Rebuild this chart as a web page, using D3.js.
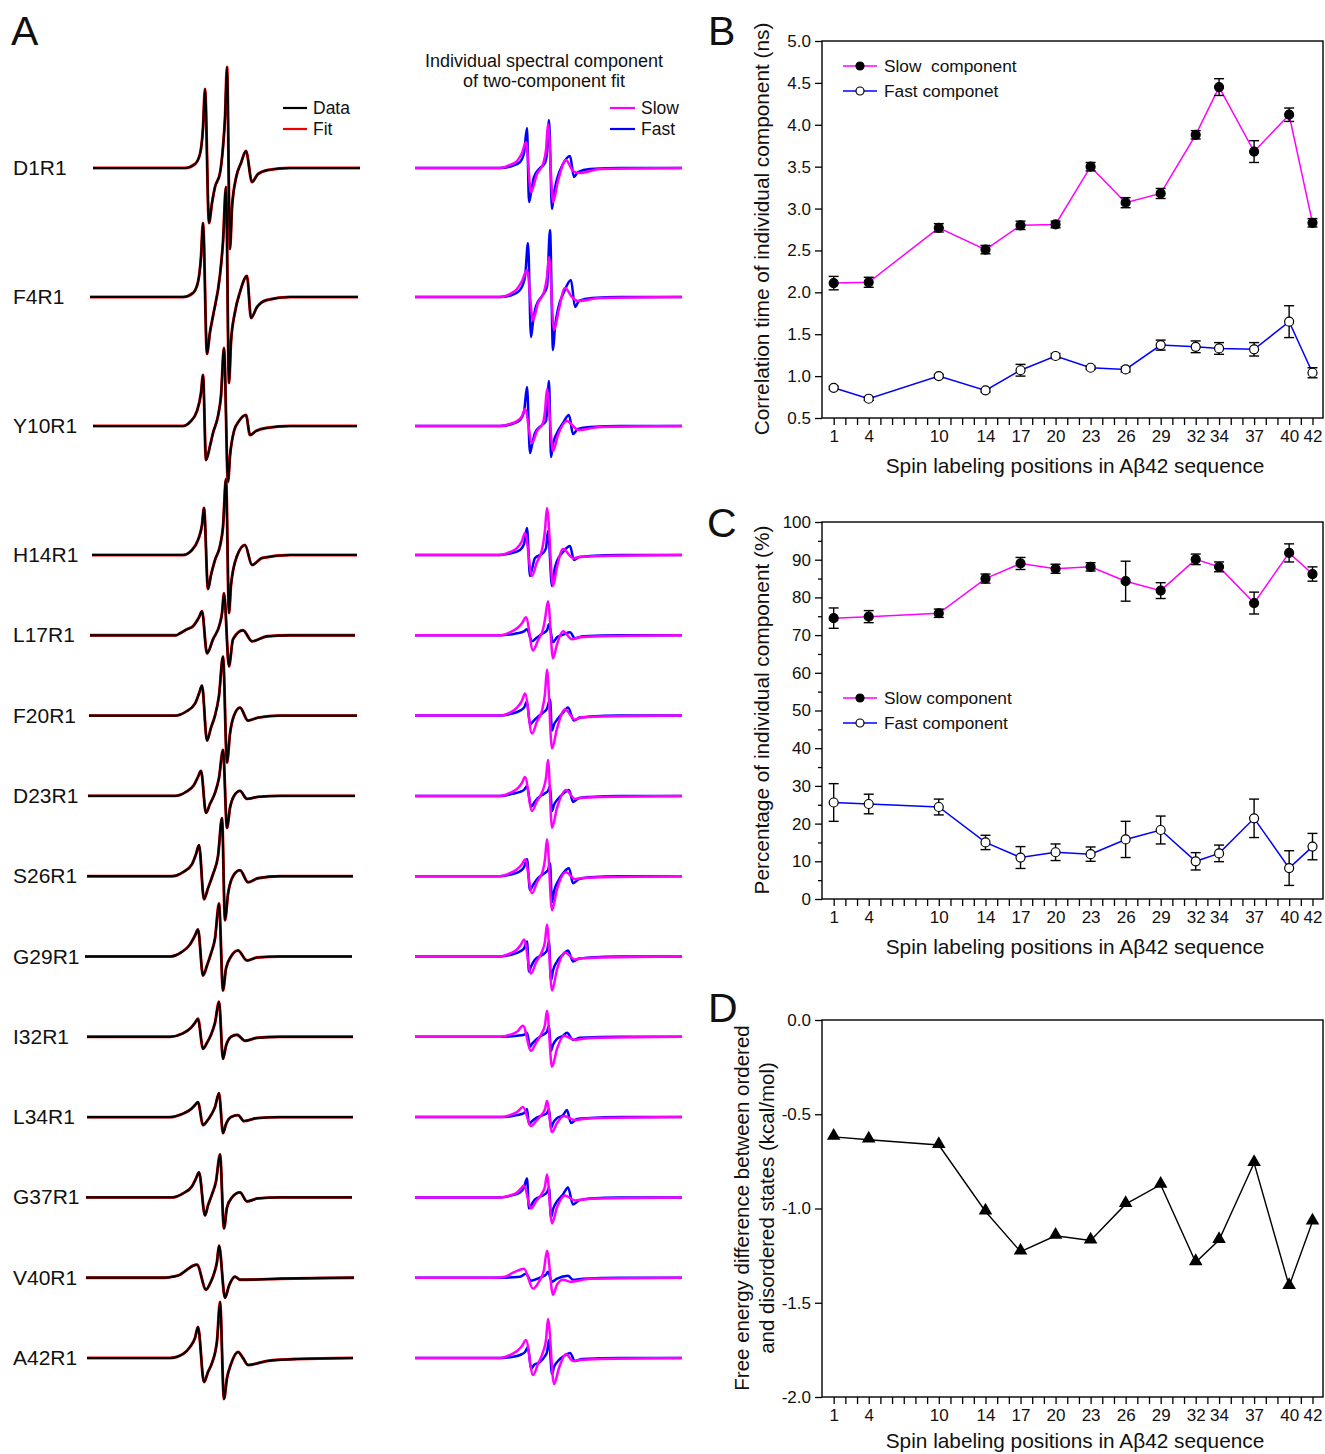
<!DOCTYPE html>
<html>
<head>
<meta charset="utf-8">
<script src="https://cdn.jsdelivr.net/npm/d3@7"></script>
<style>
  body { margin: 0; background: #fff; }
  svg text { font-family: "Liberation Sans", Arial, sans-serif; fill: #111; }
</style>
</head>
<body>
<svg id="fig" width="1325" height="1454"></svg>
<script>
// ---------- data ----------
// spin-labelled mutants (panel A rows)
const mutants = ["D1R1", "F4R1", "Y10R1", "H14R1", "L17R1", "F20R1", "D23R1", "S26R1",
                 "G29R1", "I32R1", "L34R1", "G37R1", "V40R1", "A42R1"];

// EPR spectra: [field (G, relative), amplitude (normalised)]
const dataSpectra = [
  [[2.8,0],[39.6,0],[43.6,.04],[45.6,.14],[46.8,.40],[47.6,.79],[49.2,-.55],[50.4,-.35],[51.6,-.19],[53.6,-.05],[54.8,.21],[55.6,.50],[56.4,1.01],[57.6,-.81],[58.4,-.40],[60.0,-.10],[62.0,.05],[64.0,.17],[66.4,-.14],[68.8,-.06],[72.8,-.02],[81.6,0],[109.6,0]],
  [[1.6,0],[38.8,0],[42.8,.04],[44.8,.15],[46.0,.40],[46.8,.74],[48.4,-.57],[49.6,-.35],[50.8,-.19],[53.6,.22],[54.8,.55],[56.0,1.10],[57.2,-.86],[58.0,-.45],[59.6,-.15],[61.6,.05],[64.4,.21],[66.0,-.21],[68.4,-.10],[72.4,-.03],[81.6,0],[108.8,0]],
  [[2.8,0],[38.8,0],[41.6,.04],[44.4,.15],[46.0,.33],[46.8,.51],[48.0,-.34],[49.6,-.20],[50.8,-.07],[52.8,.10],[54.0,.30],[55.2,.78],[56.8,-.56],[57.6,-.30],[59.2,-.05],[61.2,.05],[64.0,.11],[65.6,-.09],[68.0,-.05],[72.0,-.02],[81.6,0],[108.4,0]],
  [[2.4,0],[38.8,0],[42.4,.05],[44.8,.15],[46.4,.30],[47.2,.47],[48.8,-.34],[50.0,-.20],[51.6,-.05],[53.6,.09],[54.8,.28],[56.0,.76],[57.2,-.58],[58.0,-.30],[60.4,-.01],[63.6,.10],[66.4,-.10],[70.4,-.03],[81.6,0],[108.4,0]],
  [[1.6,0],[36.0,0],[37.6,.02],[40.4,.06],[42.8,.09],[45.2,.18],[46.4,.24],[48.4,-.18],[50.8,-.04],[53.6,.12],[54.4,.22],[55.2,.42],[57.2,-.31],[58.8,-.04],[62.8,.05],[66.4,-.06],[72.4,-.01],[81.6,0],[107.6,0]],
  [[1.2,0],[35.6,0],[40.0,.04],[43.6,.12],[45.2,.22],[46.4,.30],[48.4,-.25],[50.0,-.12],[51.6,0],[53.2,.20],[54.8,.59],[56.4,-.47],[57.6,-.18],[59.2,0],[61.6,.08],[64.8,-.05],[68.8,-.02],[77.6,0],[108.4,0]],
  [[0.8,0],[35.6,0],[40.0,.04],[43.2,.11],[44.8,.19],[46.0,.25],[48.0,-.17],[49.6,-.08],[51.6,.03],[53.2,.18],[54.8,.46],[56.4,-.32],[57.6,-.12],[59.2,0],[61.6,.05],[64.4,-.03],[68.8,-.01],[77.6,0],[107.6,0]],
  [[0.4,0],[34.4,0],[38.8,.04],[42.4,.12],[44.0,.22],[45.2,.31],[47.2,-.23],[48.8,-.12],[50.8,.02],[52.8,.20],[54.4,.58],[55.6,-.44],[56.8,-.18],[58.8,0],[61.6,.06],[64.8,-.06],[68.8,-.02],[77.6,0],[106.8,0]],
  [[-0.4,0],[33.6,0],[38.0,.04],[41.6,.12],[43.6,.21],[44.8,.27],[46.8,-.19],[48.4,-.09],[50.0,.03],[51.6,.18],[53.2,.53],[54.8,-.34],[56.0,-.12],[58.0,0],[60.8,.06],[64.4,-.04],[68.4,-.01],[77.6,0],[106.4,0]],
  [[0.4,0],[33.6,0],[38.4,.03],[42.0,.09],[43.6,.14],[44.8,.18],[46.8,-.12],[48.4,-.06],[50.0,.02],[51.6,.14],[53.2,.35],[54.8,-.22],[56.0,-.09],[58.0,0],[60.4,.02],[63.6,-.04],[68.4,-.01],[77.6,0],[106.8,0]],
  [[0.4,0],[33.6,0],[38.4,.03],[42.0,.08],[43.6,.12],[44.8,.15],[46.8,-.08],[48.4,-.04],[50.0,.02],[51.6,.10],[53.2,.24],[54.8,-.16],[56.0,-.07],[58.0,0],[60.8,.02],[63.2,-.04],[68.4,-.01],[77.6,0],[106.8,0]],
  [[0,0],[34.4,0],[38.8,.04],[42.4,.11],[44.0,.19],[45.2,.25],[47.6,-.18],[48.8,-.08],[50.4,.03],[52.0,.16],[53.6,.43],[55.2,-.31],[56.4,-.10],[58.4,0],[61.6,.05],[64.4,-.04],[68.8,-.01],[77.6,0],[106.4,0]],
  [[0,0],[31.6,0],[34.8,.01],[37.6,.03],[40.4,.08],[42.8,.12],[44.4,.13],[48.0,-.12],[49.6,-.06],[51.2,.04],[52.4,.16],[53.2,.32],[55.6,-.20],[57.2,-.08],[59.6,.01],[61.6,-.02],[64.4,-.02],[77.6,-.01],[107.2,0]],
  [[0.4,0],[33.6,0],[38.8,.04],[41.6,.11],[43.6,.20],[44.8,.31],[47.2,-.24],[48.8,-.14],[50.4,-.05],[52.4,.17],[53.6,.56],[55.2,-.41],[56.4,-.20],[58.0,-.06],[60.8,.06],[62.8,0],[64.8,-.07],[72.4,-.03],[84.4,-.01],[106.8,0]]
];
// two-component fit overlays the data within the line width
const fitSpectra = dataSpectra;

const slowSpectra = [
  [[2.8,0],[36.8,0],[40.8,.03],[43.6,.07],[45.6,.15],[47.2,.26],[49.2,-.24],[51.6,-.06],[54.0,.04],[55.2,.18],[56.0,.44],[58.0,-.34],[60.0,-.13],[63.2,.08],[66.0,-.03],[68.8,-.05],[76.8,-.01],[109.6,0]],
  [[2.8,0],[36.8,0],[40.8,.03],[43.6,.08],[45.6,.16],[47.6,.27],[50.0,-.23],[52.0,-.06],[54.4,.05],[55.6,.20],[56.4,.40],[58.4,-.33],[60.4,-.12],[62.8,.09],[65.6,0],[68.0,-.04],[76.8,-.01],[109.6,0]],
  [[2.8,0],[36.8,0],[40.8,.02],[43.6,.05],[45.6,.10],[46.8,.17],[49.6,-.17],[51.6,-.05],[54.0,.03],[54.8,.15],[55.6,.37],[58.0,-.25],[60.0,-.09],[63.6,.05],[66.4,-.01],[68.0,-.04],[76.8,-.01],[109.6,0]],
  [[2.8,0],[36.8,0],[40.8,.03],[43.6,.07],[45.6,.14],[46.8,.22],[49.6,-.21],[51.6,-.07],[52.8,-.01],[54.0,.10],[54.8,.25],[55.6,.47],[58.0,-.31],[59.6,-.12],[62.0,.06],[66.0,-.03],[68.8,-.02],[76.8,-.01],[109.6,0]],
  [[2.8,0],[36.8,0],[40.8,.03],[43.6,.07],[45.6,.12],[47.2,.18],[50.0,-.15],[52.0,-.05],[54.0,.06],[54.8,.16],[56.0,.34],[58.0,-.23],[59.6,-.09],[62.0,.04],[65.6,-.04],[68.8,-.02],[76.8,-.01],[109.6,0]],
  [[2.8,0],[36.8,0],[40.8,.03],[43.6,.08],[45.6,.15],[46.8,.22],[49.6,-.18],[51.6,-.06],[53.6,.05],[54.8,.22],[55.6,.46],[57.6,-.33],[59.6,-.13],[62.8,.06],[66.8,-.04],[68.8,-.02],[76.8,-.01],[109.6,0]],
  [[2.8,0],[36.8,0],[40.8,.03],[43.6,.07],[45.6,.13],[46.8,.19],[49.6,-.15],[51.6,-.05],[54.0,.06],[55.2,.18],[56.0,.36],[57.6,-.32],[59.6,-.12],[63.2,.06],[66.8,-.03],[68.8,-.02],[76.8,-.01],[109.6,0]],
  [[2.8,0],[36.8,0],[40.8,.03],[43.6,.07],[45.6,.12],[46.8,.17],[49.6,-.17],[51.6,-.06],[54.0,.06],[54.8,.17],[55.6,.37],[57.6,-.34],[59.6,-.13],[63.2,.04],[66.8,-.03],[68.8,-.02],[76.8,-.01],[109.6,0]],
  [[2.8,0],[36.8,0],[40.8,.03],[43.6,.07],[45.2,.12],[46.4,.17],[49.2,-.17],[51.2,-.06],[53.6,.05],[54.8,.15],[55.6,.32],[57.6,-.34],[59.6,-.13],[62.8,.04],[66.8,-.03],[68.8,-.02],[76.8,-.01],[109.6,0]],
  [[2.8,0],[36.8,0],[40.8,.02],[43.6,.05],[46.0,.11],[49.2,-.14],[51.2,-.06],[53.6,.04],[54.8,.12],[55.6,.26],[57.6,-.30],[59.6,-.12],[62.4,.01],[66.8,-.03],[70.0,-.02],[76.8,-.01],[109.6,0]],
  [[2.8,0],[36.8,0],[40.8,.02],[43.6,.05],[46.0,.10],[49.2,-.09],[51.2,-.04],[53.6,.03],[54.8,.08],[55.6,.16],[57.6,-.15],[59.6,-.06],[62.4,.01],[66.8,-.03],[70.0,-.02],[76.8,-.01],[109.6,0]],
  [[2.8,0],[36.8,0],[40.8,.02],[43.6,.05],[45.2,.09],[46.4,.12],[49.2,-.11],[51.2,-.04],[53.6,.04],[54.8,.11],[55.6,.23],[57.6,-.26],[59.6,-.10],[62.8,.02],[66.8,-.03],[70.0,-.02],[76.8,-.01],[109.6,0]],
  [[2.8,0],[33.6,0],[38.8,.01],[42.0,.05],[44.8,.08],[46.4,.09],[50.0,-.11],[52.4,-.04],[54.4,.08],[55.6,.27],[58.0,-.17],[59.6,-.07],[62.0,-.02],[64.8,-.04],[72.8,-.01],[109.6,0]],
  [[2.8,0],[36.8,0],[40.8,.03],[43.6,.07],[45.6,.12],[47.2,.18],[50.0,-.17],[52.0,-.06],[54.0,.06],[55.2,.18],[56.0,.39],[58.4,-.26],[60.4,-.10],[63.2,.04],[66.0,-.03],[68.8,-.02],[76.8,-.01],[109.6,0]]
];

const fastSpectra = [
  [[2.8,0],[36.8,0],[41.6,.02],[44.8,.06],[46.4,.15],[47.6,.40],[48.4,-.34],[49.2,-.25],[50.4,-.09],[52.8,0],[54.8,.05],[55.6,.15],[56.4,.48],[57.6,-.41],[58.4,-.25],[59.6,-.11],[62.0,.04],[64.8,.12],[66.4,-.09],[68.0,-.04],[72.8,-.01],[84.8,0],[109.6,0]],
  [[2.8,0],[36.8,0],[41.6,.02],[44.8,.07],[46.8,.20],[48.0,.54],[49.2,-.40],[50.0,-.25],[51.2,-.09],[53.6,.01],[55.6,.10],[56.8,.67],[58.0,-.53],[58.8,-.30],[60.0,-.12],[62.4,.05],[65.2,.17],[66.8,-.10],[68.4,-.04],[73.6,-.01],[84.8,0],[109.6,0]],
  [[2.8,0],[36.8,0],[41.6,.02],[44.8,.06],[46.4,.14],[47.6,.39],[48.8,-.27],[49.6,-.19],[50.8,-.07],[53.6,.01],[55.2,.05],[55.6,.14],[56.4,.45],[57.2,-.31],[58.0,-.18],[59.6,-.07],[62.0,.03],[64.4,.11],[66.0,-.08],[68.0,-.03],[72.8,-.01],[84.8,0],[109.6,0]],
  [[2.8,0],[36.8,0],[41.6,.02],[44.8,.05],[46.4,.11],[47.6,.27],[48.8,-.21],[49.6,-.14],[50.8,-.03],[54.0,.02],[55.2,.07],[56.0,.24],[57.6,-.31],[58.4,-.17],[59.6,-.06],[62.0,.03],[64.8,.09],[66.4,-.05],[68.4,-.02],[72.8,-.01],[84.8,0],[109.6,0]],
  [[2.8,0],[36.8,0],[43.6,.02],[46.4,.04],[47.6,.06],[49.6,-.06],[51.2,-.03],[54.0,.02],[55.6,.05],[56.4,.11],[58.0,-.07],[59.6,-.02],[62.4,.01],[64.8,.03],[66.8,-.03],[70.0,-.01],[84.8,0],[109.6,0]],
  [[2.8,0],[36.8,0],[41.6,.02],[44.8,.05],[46.4,.08],[47.6,.14],[48.8,-.09],[50.0,-.06],[51.6,-.02],[54.0,.03],[55.6,.07],[56.8,.16],[57.6,-.15],[58.4,-.09],[60.0,-.03],[62.0,.03],[64.0,.08],[66.4,-.05],[68.8,-.02],[72.8,-.01],[84.8,0],[109.6,0]],
  [[2.8,0],[36.8,0],[41.6,.02],[44.8,.04],[46.4,.06],[47.6,.10],[49.2,-.11],[50.4,-.07],[52.0,-.02],[54.4,.02],[56.0,.05],[56.8,.10],[57.6,-.15],[58.4,-.09],[60.0,-.03],[62.0,.02],[64.4,.06],[66.0,-.06],[68.4,-.02],[72.8,-.01],[84.8,0],[109.6,0]],
  [[2.8,0],[36.8,0],[41.6,.02],[44.8,.05],[46.4,.09],[47.6,.17],[48.8,-.14],[50.0,-.09],[51.6,-.03],[54.0,.02],[56.0,.06],[56.8,.13],[57.6,-.26],[58.4,-.15],[60.0,-.05],[62.0,.03],[64.4,.08],[66.0,-.07],[68.4,-.03],[72.8,-.01],[84.8,0],[109.6,0]],
  [[2.8,0],[36.8,0],[41.6,.02],[44.8,.05],[46.4,.08],[47.6,.15],[48.4,-.15],[49.2,-.10],[50.8,-.03],[54.0,.02],[55.6,.06],[56.4,.15],[57.2,-.24],[58.0,-.14],[59.6,-.05],[62.0,.02],[64.0,.06],[66.0,-.05],[68.4,-.02],[72.8,-.01],[84.8,0],[109.6,0]],
  [[2.8,0],[36.8,0],[43.6,.01],[46.4,.02],[47.6,.04],[48.8,-.10],[49.6,-.07],[51.2,-.03],[54.0,.02],[55.6,.05],[56.4,.11],[57.2,-.14],[58.0,-.08],[59.6,-.02],[62.0,.01],[63.6,.04],[66.0,-.03],[68.8,-.01],[84.8,0],[109.6,0]],
  [[2.8,0],[36.8,0],[43.6,.02],[46.4,.04],[47.6,.08],[48.4,-.07],[49.6,-.04],[51.2,-.01],[54.0,.02],[55.6,.04],[56.4,.08],[57.2,-.11],[58.0,-.06],[59.6,-.01],[62.0,.02],[63.6,.07],[65.2,-.06],[67.6,-.02],[72.8,-.01],[84.8,0],[109.6,0]],
  [[2.8,0],[36.8,0],[41.6,.02],[44.8,.05],[46.4,.10],[47.6,.19],[48.4,-.11],[49.2,-.08],[50.8,-.02],[54.0,.02],[55.6,.05],[56.4,.10],[57.2,-.20],[58.0,-.12],[59.6,-.04],[62.0,.03],[64.0,.10],[66.0,-.07],[68.4,-.03],[72.8,-.01],[84.8,0],[109.6,0]],
  [[2.8,0],[36.8,0],[44.8,.01],[47.2,.04],[49.2,-.03],[52.8,0],[55.2,.03],[56.0,.06],[57.6,-.04],[59.6,-.01],[64.0,.02],[66.0,-.02],[70.0,-.01],[84.8,0],[109.6,0]],
  [[2.8,0],[36.8,0],[41.6,.01],[44.8,.03],[46.8,.06],[48.0,.11],[49.2,-.11],[50.4,-.07],[52.8,-.04],[54.8,.02],[55.6,.06],[56.4,.18],[57.6,-.16],[58.4,-.09],[60.0,-.03],[62.4,.02],[64.8,.05],[66.8,-.03],[69.6,-.01],[84.8,0],[109.6,0]]
];

// panels B-D
const positions = [1, 4, 10, 14, 17, 20, 23, 26, 29, 32, 34, 37, 40, 42];
const tauSlow = [2.11, 2.12, 2.77, 2.51, 2.80, 2.81, 3.50, 3.07, 3.18, 3.88, 4.45, 3.68, 4.12, 2.83];
const tauSlowErr = [0.08, 0.06, 0.05, 0.05, 0.05, 0.04, 0.05, 0.06, 0.06, 0.05, 0.10, 0.13, 0.08, 0.05];
const tauFast = [0.86, 0.73, 1.00, 0.83, 1.07, 1.24, 1.10, 1.08, 1.37, 1.35, 1.33, 1.32, 1.65, 1.04];
const tauFastErr = [0.02, 0.02, 0.02, 0.02, 0.07, 0.03, 0.02, 0.03, 0.06, 0.07, 0.07, 0.08, 0.19, 0.06];
const pctSlow = [74.5, 74.9, 75.8, 85.0, 89.0, 87.6, 88.1, 84.3, 81.8, 90.1, 88.1, 78.5, 91.8, 86.2];
const pctSlowErr = [2.7, 1.6, 1.1, 1.2, 1.6, 1.2, 1.1, 5.3, 2.1, 1.4, 1.3, 2.9, 2.4, 1.9];
const pctFast = [25.6, 25.2, 24.4, 15.0, 11.0, 12.4, 11.9, 15.8, 18.3, 10.0, 12.1, 21.4, 8.2, 13.9];
const pctFastErr = [5.0, 2.6, 2.1, 1.9, 2.9, 2.2, 1.9, 4.8, 3.7, 2.3, 2.2, 5.1, 4.6, 3.5];
const deltaG = [-0.62, -0.635, -0.663, -1.016, -1.229, -1.145, -1.170, -0.977, -0.874, -1.285, -1.167, -0.759, -1.411, -1.069];

const tauTicks = [0.5, 1.0, 1.5, 2.0, 2.5, 3.0, 3.5, 4.0, 4.5, 5.0];
const pctTicks = [0, 10, 20, 30, 40, 50, 60, 70, 80, 90, 100];
const dgTicks = [-2.0, -1.5, -1.0, -0.5, 0.0];

const MAGENTA = "#ff00ff", BLUE = "#0000ff";
const svg = d3.select("#fig");

// ---------- panel A : spectra ----------
const rowY = i => i < 4 ? 168 + i * 129 : 555 + (i - 3) * 80.3;
const xLeft = d3.scaleLinear().domain([0, 110]).range([86, 361]);
const xRight = d3.scaleLinear().domain([0, 110]).range([408, 683]);
const amp = d3.scaleLinear().domain([-1, 1]).range([100, -100]);

function spectrumPath(xs, y0) {
  return d3.line()
    .x(d => xs(d[0]))
    .y(d => y0 + amp(d[1]))
    .curve(d3.curveMonotoneX);
}

const gA = svg.append("g");
mutants.forEach((name, i) => {
  const y0 = rowY(i);
  gA.append("text").attr("x", 13).attr("y", y0 + 7)
    .attr("font-size", 21).text(name);

  gA.append("path").datum(fitSpectra[i])
    .attr("d", spectrumPath(xLeft, y0))
    .attr("fill", "none").attr("stroke", "#e00").attr("stroke-width", 2.9);
  gA.append("path").datum(dataSpectra[i])
    .attr("d", spectrumPath(xLeft, y0))
    .attr("fill", "none").attr("stroke", "#000").attr("stroke-width", 2.2);

  gA.append("path").datum(fastSpectra[i])
    .attr("d", spectrumPath(xRight, y0))
    .attr("fill", "none").attr("stroke", BLUE).attr("stroke-width", 2.5);
  gA.append("path").datum(slowSpectra[i])
    .attr("d", spectrumPath(xRight, y0))
    .attr("fill", "none").attr("stroke", MAGENTA).attr("stroke-width", 2.5);
});

// legends of panel A
[["Data", "#000", 108], ["Fit", "#e00", 129]].forEach(([t, c, y]) => {
  gA.append("line").attr("x1", 283).attr("x2", 307).attr("y1", y).attr("y2", y)
    .attr("stroke", c).attr("stroke-width", 2.2);
  gA.append("text").attr("x", 313).attr("y", y + 6).attr("font-size", 17.5).text(t);
});
[["Slow", MAGENTA, 108], ["Fast", BLUE, 129]].forEach(([t, c, y]) => {
  gA.append("line").attr("x1", 610).attr("x2", 635).attr("y1", y).attr("y2", y)
    .attr("stroke", c).attr("stroke-width", 2.2);
  gA.append("text").attr("x", 641).attr("y", y + 6).attr("font-size", 17.5).text(t);
});
gA.append("text").attr("x", 544).attr("y", 67).attr("text-anchor", "middle")
  .attr("font-size", 18).text("Individual spectral component");
gA.append("text").attr("x", 544).attr("y", 87).attr("text-anchor", "middle")
  .attr("font-size", 18).text("of two-component fit");

// panel letters
[["A", 11, 45], ["B", 708, 45], ["C", 707, 537], ["D", 708, 1022]].forEach(([t, x, y]) => {
  svg.append("text").attr("x", x).attr("y", y).attr("font-size", 41).text(t);
});

// ---------- panels B, C, D ----------
const FRAME_L = 822, FRAME_R = 1323, FRAME_H = 377;
const xPos = d3.scaleLinear().domain([0, 42.9]).range([FRAME_L, FRAME_R]);

function panel(top, yDomain, yTicks, fmt, minorTicks, titleGap) {
  const g = svg.append("g");
  const y = d3.scaleLinear().domain(yDomain).range([top + FRAME_H, top]);

  const xAxis = g.append("g").attr("transform", `translate(0,${top + FRAME_H})`)
    .call(d3.axisBottom(xPos).tickValues(d3.range(1, 43)).tickSize(7).tickPadding(5)
      .tickFormat(d => positions.includes(d) ? d : ""));
  xAxis.select(".domain").remove();

  if (minorTicks) {
    const m = g.append("g").attr("transform", `translate(${FRAME_L},0)`)
      .call(d3.axisLeft(y).tickValues(minorTicks).tickSize(4).tickFormat(""));
    m.select(".domain").remove();
  }
  const yAxis = g.append("g").attr("transform", `translate(${FRAME_L},0)`)
    .call(d3.axisLeft(y).tickValues(yTicks).tickSize(7).tickPadding(4).tickFormat(fmt));
  yAxis.select(".domain").remove();

  g.selectAll(".tick line").attr("stroke", "#000").attr("stroke-width", 1.3);
  g.selectAll(".tick text").attr("font-size", 17).attr("fill", "#111")
    .attr("font-family", "'Liberation Sans', Arial, sans-serif");

  g.append("rect").attr("x", FRAME_L).attr("y", top)
    .attr("width", FRAME_R - FRAME_L).attr("height", FRAME_H)
    .attr("fill", "none").attr("stroke", "#000").attr("stroke-width", 1.4);

  g.append("text").attr("x", 1075).attr("y", top + FRAME_H + titleGap)
    .attr("text-anchor", "middle").attr("font-size", 20.8)
    .text("Spin labeling positions in A\u03B242 sequence");
  return { g, y };
}

function series(p, values, errors, color, filled) {
  const pts = positions.map((pos, i) => ({ pos, v: values[i], e: errors[i] }));
  p.g.append("path").datum(pts)
    .attr("d", d3.line().x(d => xPos(d.pos)).y(d => p.y(d.v)))
    .attr("fill", "none").attr("stroke", color).attr("stroke-width", 1.5);
  const eb = p.g.append("g").attr("stroke", "#000").attr("stroke-width", 1.4);
  pts.forEach(d => {
    const x = xPos(d.pos), y1 = p.y(d.v - d.e), y2 = p.y(d.v + d.e);
    eb.append("line").attr("x1", x).attr("x2", x).attr("y1", y1).attr("y2", y2);
    eb.append("line").attr("x1", x - 5).attr("x2", x + 5).attr("y1", y1).attr("y2", y1);
    eb.append("line").attr("x1", x - 5).attr("x2", x + 5).attr("y1", y2).attr("y2", y2);
  });
  p.g.append("g").selectAll("circle").data(pts).join("circle")
    .attr("cx", d => xPos(d.pos)).attr("cy", d => p.y(d.v)).attr("r", 4.5)
    .attr("fill", filled ? "#000" : "#fff").attr("stroke", "#000").attr("stroke-width", 1.2);
}

function legend(p, y, label, color, filled) {
  p.g.append("line").attr("x1", 843).attr("x2", 877).attr("y1", y).attr("y2", y)
    .attr("stroke", color).attr("stroke-width", 1.5);
  p.g.append("circle").attr("cx", 860).attr("cy", y).attr("r", 4)
    .attr("fill", filled ? "#000" : "#fff").attr("stroke", "#000").attr("stroke-width", 1.2);
  p.g.append("text").attr("x", 884).attr("y", y + 6).attr("font-size", 17.3)
    .style("white-space", "pre").text(label);
}

const fmt1 = d => d.toFixed(1);

// B
const pB = panel(41, [0.5, 5.0], tauTicks, fmt1, null, 55);
series(pB, tauSlow, tauSlowErr, MAGENTA, true);
series(pB, tauFast, tauFastErr, BLUE, false);
legend(pB, 66, "Slow  component", MAGENTA, true);
legend(pB, 91, "Fast componet", BLUE, false);
pB.g.append("text").attr("transform", "translate(769,229) rotate(-90)")
  .attr("text-anchor", "middle").attr("font-size", 20.8)
  .text("Correlation time of individual component (ns)");

// C
const pC = panel(522, [0, 100], pctTicks, d3.format("d"), d3.range(5, 100, 10), 55);
series(pC, pctSlow, pctSlowErr, MAGENTA, true);
series(pC, pctFast, pctFastErr, BLUE, false);
legend(pC, 698, "Slow component", MAGENTA, true);
legend(pC, 723, "Fast component", BLUE, false);
pC.g.append("text").attr("transform", "translate(769,710) rotate(-90)")
  .attr("text-anchor", "middle").attr("font-size", 20.8)
  .text("Percentage of individual component (%)");

// D
const pD = panel(1020, [-2.0, 0.0], dgTicks, fmt1, null, 51);
const dPts = positions.map((pos, i) => ({ pos, v: deltaG[i] }));
pD.g.append("path").datum(dPts)
  .attr("d", d3.line().x(d => xPos(d.pos)).y(d => pD.y(d.v)))
  .attr("fill", "none").attr("stroke", "#000").attr("stroke-width", 1.4);
pD.g.append("g").selectAll("path").data(dPts).join("path")
  .attr("transform", d => `translate(${xPos(d.pos)},${pD.y(d.v) - 1})`)
  .attr("d", d3.symbol(d3.symbolTriangle, 80)).attr("fill", "#000");
pD.g.append("text").attr("transform", "translate(749,1208) rotate(-90)")
  .attr("text-anchor", "middle").attr("font-size", 20.5)
  .text("Free energy difference between ordered");
pD.g.append("text").attr("transform", "translate(774,1208) rotate(-90)")
  .attr("text-anchor", "middle").attr("font-size", 20.5)
  .text("and disordered states (kcal/mol)");
</script>
</body>
</html>
